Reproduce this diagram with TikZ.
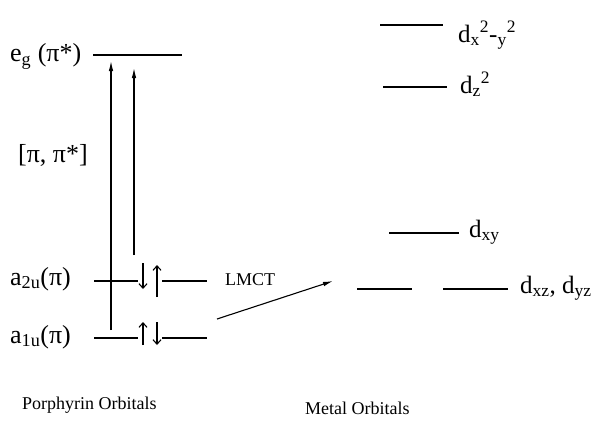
\documentclass[tikz,border=0pt]{standalone}
\usepackage{fontspec}
\setmainfont{Liberation Serif}
\usetikzlibrary{arrows.meta}

\begin{document}
\begin{tikzpicture}[x=1pt,y=-1pt,
  level/.style={line width=1.2pt},
  excite/.style={line width=1.1pt,-{Latex[length=10pt,width=4.5pt]}},
  spinar/.style={line width=1.1pt,-{Straight Barb[length=4.5pt,width=8pt]}},
  spinbox/.style={inner sep=0pt,minimum width=24pt,minimum height=30pt},
  lbl/.style={inner sep=0pt,anchor=base west,font=\fontsize{26}{30}\selectfont},
  dlbl/.style={inner sep=0pt,anchor=base west,font=\fontsize{25}{29}\selectfont},
  capt/.style={inner sep=0pt,anchor=base west,font=\fontsize{18}{22}\selectfont}]
\useasboundingbox (0,0) rectangle (591,444);
% porphyrin levels
\coordinate (egL) at (93,55);
\coordinate (egR) at (182,55);
\draw[level] (egL) -- (egR);
\node[spinbox] (spinA) at (150,281) {};
\coordinate (a2uL) at (94,281);
\coordinate (a2uR) at (207,281);
\draw[level] (a2uL) -- (spinA.west);
\draw[level] (spinA.east) -- (a2uR);
\draw[spinar] ([shift={(-7,-18)}]spinA.center) -- ([shift={(-7,8)}]spinA.center);
\draw[spinar] ([shift={(7,16)}]spinA.center) -- ([shift={(7,-16)}]spinA.center);
\node[spinbox] (spinB) at (150,338) {};
\coordinate (a1uL) at (94,338);
\coordinate (a1uR) at (207,338);
\draw[level] (a1uL) -- (spinB.west);
\draw[level] (spinB.east) -- (a1uR);
\draw[spinar] ([shift={(-7,7)}]spinB.center) -- ([shift={(-7,-16)}]spinB.center);
\draw[spinar] ([shift={(7,-16)}]spinB.center) -- ([shift={(7,7)}]spinB.center);
\node[lbl] (eg) at (10,62) {e\textsubscript{g} (π*)};
\node[lbl] (pipi) at (18,162) {[π, π*]};
\node[lbl] (a2u) at (10,285) {a\textsubscript{2u}(π)};
\node[lbl] (a1u) at (10,343) {a\textsubscript{1u}(π)};
% transitions
\coordinate (upAs) at (111,330);
\coordinate (upAe) at (111,61);
\coordinate (upBs) at (134,255);
\coordinate (upBe) at (134,68);
\draw[excite] (upAs) -- (upAe);
\draw[excite] (upBs) -- (upBe);
\coordinate (lmctS) at (217,319);
\coordinate (lmctE) at (333,281);
\draw[excite] (lmctS) -- (lmctE);
\node[capt] (lmct) at (225,285) {LMCT};
% metal levels
\coordinate (dxyyL) at (380,25);
\coordinate (dxyyR) at (443,25);
\draw[level] (dxyyL) -- (dxyyR);
\coordinate (dzL) at (383,87);
\coordinate (dzR) at (447,87);
\draw[level] (dzL) -- (dzR);
\coordinate (dxyL) at (389,233);
\coordinate (dxyR) at (459,233);
\draw[level] (dxyL) -- (dxyR);
\coordinate (dxzL) at (357,289);
\coordinate (dxzR) at (412,289);
\draw[level] (dxzL) -- (dxzR);
\coordinate (dyzL) at (443,289);
\coordinate (dyzR) at (508,289);
\draw[level] (dyzL) -- (dyzR);
\node[dlbl] (dx2) at (458,42) {d\textsubscript{x}\textsuperscript{2}-\textsubscript{y}\textsuperscript{2}};
\node[dlbl] (dz2) at (460,93) {d\textsubscript{z}\textsuperscript{2}};
\node[dlbl] (dxy) at (469,237) {d\textsubscript{xy}};
\node[dlbl] (dxz) at (520,293) {d\textsubscript{xz}, d\textsubscript{yz}};
% captions
\node[capt] (porph) at (22,409) {Porphyrin Orbitals};
\node[capt] (metal) at (305,414) {Metal Orbitals};
\end{tikzpicture}
\end{document}
